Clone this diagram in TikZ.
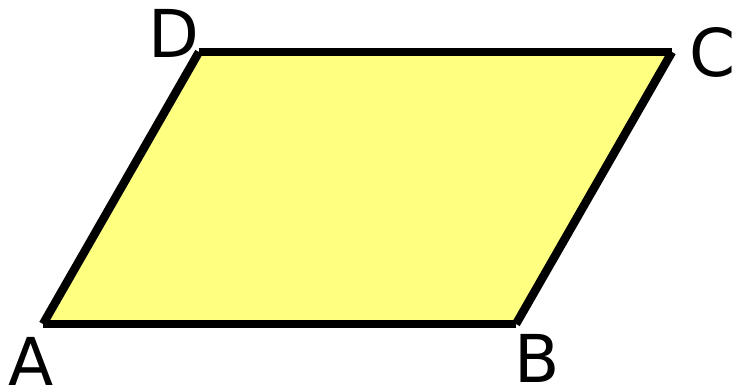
\documentclass[tikz,border=0pt]{standalone}
\usepackage{fontspec}
\setmainfont{DejaVu Sans}
\definecolor{fillyellow}{HTML}{FFFF80}
\begin{document}
\begin{tikzpicture}[x=1pt,y=-1pt,
  edge/.style={line width=8.5pt,line cap=butt},
  lab/.style={font=\fontsize{66}{66}\selectfont,inner sep=0pt,anchor=center}]
\useasboundingbox (0,0) rectangle (739,390);
\coordinate (A) at (43,324);
\coordinate (B) at (516,324);
\coordinate (C) at (672,52);
\coordinate (D) at (199,52);
\fill[fillyellow] (A) -- (B) -- (C) -- (D) -- cycle;
\draw[edge] (A) -- (B);
\draw[edge] (B) -- (C);
\draw[edge] (C) -- (D);
\draw[edge] (D) -- (A);
\node[lab] (lA) at (31,361) {A};
\node[lab] (lB) at (537,358) {B};
\node[lab] (lC) at (713,52) {C};
\node[lab] (lD) at (174,33) {D};
\end{tikzpicture}
\end{document}
